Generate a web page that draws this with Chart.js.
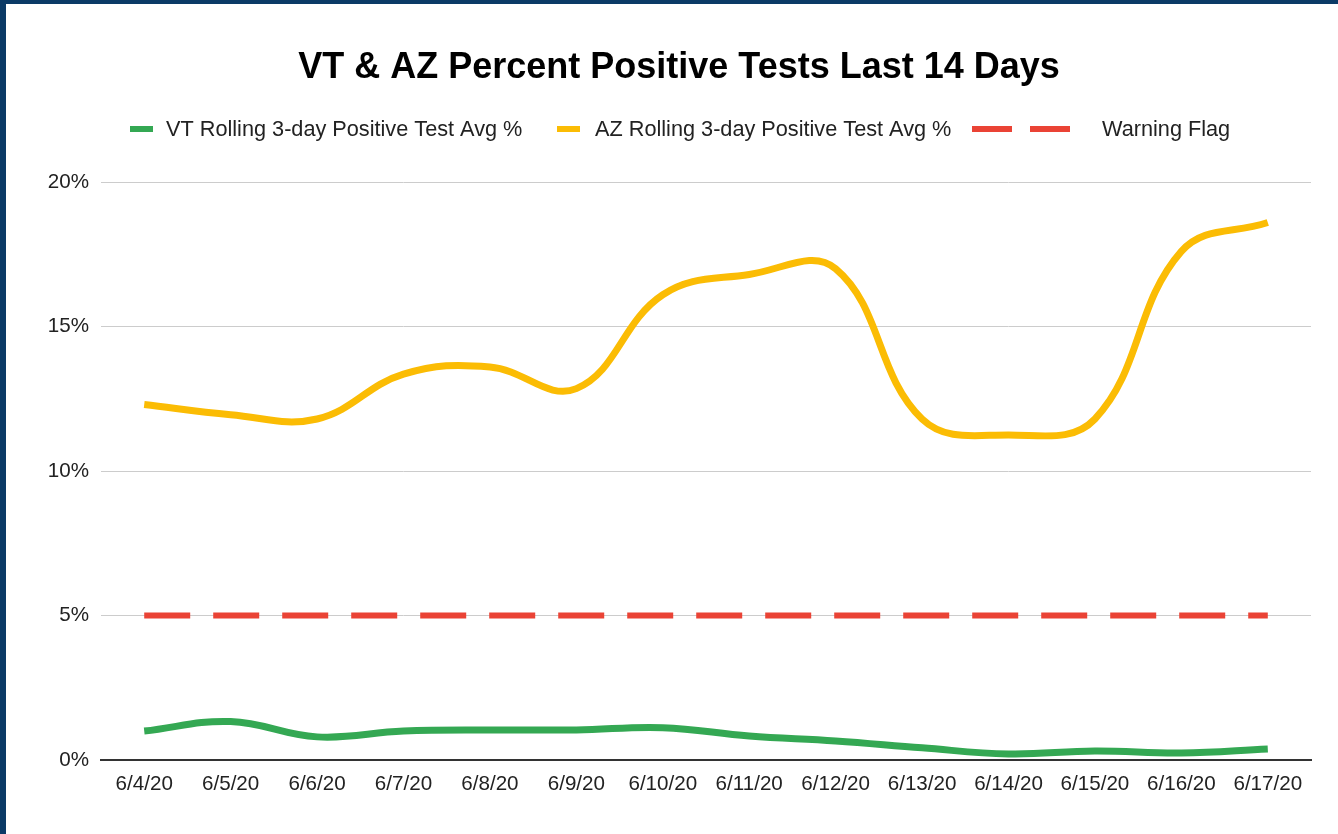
<!DOCTYPE html>
<html>
<head>
<meta charset="utf-8">
<script src="https://cdn.jsdelivr.net/npm/chart.js@4/dist/chart.umd.min.js"></script>
<style>
  html, body { margin: 0; padding: 0; background: #0b3a66; }
  #wrap { position: absolute; left: 6px; top: 4px; width: 1332px; height: 830px; background: #fff; }
</style>
</head>
<body>
<div id="wrap"><canvas id="chart"></canvas></div>
<script>
const dates = ["6/4/20", "6/5/20", "6/6/20", "6/7/20", "6/8/20", "6/9/20", "6/10/20",
  "6/11/20", "6/12/20", "6/13/20", "6/14/20", "6/15/20", "6/16/20", "6/17/20"]
const vtAvg = [1.0, 1.33, 0.8, 1.0, 1.04, 1.04, 1.12, 0.83, 0.66, 0.42, 0.21, 0.31, 0.24, 0.38]
const azAvg = [12.3, 11.95, 11.8, 13.35, 13.6, 12.85, 16.1, 16.8, 17.0, 11.8, 11.25, 11.8, 17.6, 18.6]
const warning = [5, 5, 5, 5, 5, 5, 5, 5, 5, 5, 5, 5, 5, 5]
const yTicks = [0, 5, 10, 15, 20]

const GREEN = "#34a853", YELLOW = "#fbbc04", RED = "#ea4335"
const FONT = "'Liberation Sans', Arial, sans-serif"

// title + legend drawn by hand so the dashed swatch looks like the original
const header = {
  id: "header",
  afterDraw(chart) {
    const ctx = chart.ctx
    ctx.save()
    ctx.fillStyle = "#000"
    ctx.font = "bold 36px " + FONT
    ctx.textAlign = "center"
    ctx.textBaseline = "middle"
    ctx.fillText("VT & AZ Percent Positive Tests Last 14 Days", 673, 64)

    ctx.font = "21.7px " + FONT
    ctx.textAlign = "left"
    const y = 125
    ctx.fillStyle = GREEN
    ctx.fillRect(124, y - 3, 23, 6)
    ctx.fillStyle = "#222"
    ctx.fillText(chart.data.datasets[0].label, 160, y + 1)

    ctx.fillStyle = YELLOW
    ctx.fillRect(551, y - 3, 23, 6)
    ctx.fillStyle = "#222"
    ctx.fillText(chart.data.datasets[1].label, 589, y + 1)

    ctx.fillStyle = RED
    ctx.fillRect(966, y - 3, 40, 6)
    ctx.fillRect(1024, y - 3, 40, 6)
    ctx.fillStyle = "#222"
    ctx.fillText(chart.data.datasets[2].label, 1096, y + 1)
    ctx.restore()
  }
}

new Chart(document.getElementById("chart"), {
  type: "line",
  data: {
    labels: dates,
    datasets: [
      { label: "VT Rolling 3-day Positive Test Avg %", data: vtAvg, borderColor: GREEN, borderWidth: 7, tension: 0.4 },
      { label: "AZ Rolling 3-day Positive Test Avg %", data: azAvg, borderColor: YELLOW, borderWidth: 7, tension: 0.4 },
      { label: "Warning Flag", data: warning, borderColor: RED, borderWidth: 6, borderDash: [46, 23] }
    ]
  },
  options: {
    responsive: true,
    maintainAspectRatio: false,
    animation: false,
    layout: { padding: { left: 0, right: 27, top: 178, bottom: 24 } },
    elements: { point: { radius: 0 } },
    plugins: { legend: { display: false }, title: { display: false }, tooltip: { enabled: false } },
    scales: {
      x: {
        offset: true,
        grid: { display: false, drawTicks: false },
        border: { display: true, color: "#333", width: 2 },
        ticks: { color: "#222", font: { family: FONT, size: 20.6 }, padding: 12, maxRotation: 0, autoSkip: false },
        afterFit(s) { s.height = 50 }
      },
      y: {
        min: 0, max: 20,
        grid: { color: "#ccc", lineWidth: 1, drawTicks: false },
        border: { display: false },
        afterBuildTicks(s) { s.ticks = yTicks.map(v => ({ value: v })) },
        ticks: { color: "#222", font: { family: FONT, size: 20.6 }, padding: 12, callback: v => v + "%" },
        afterFit(s) { s.width = 95 }
      }
    }
  },
  plugins: [header]
})
</script>
</body>
</html>
